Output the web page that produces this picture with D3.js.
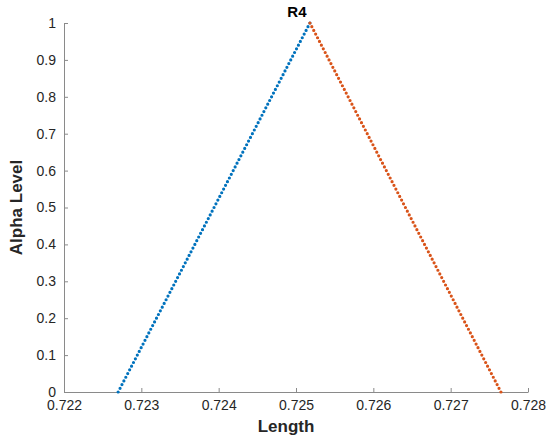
<!DOCTYPE html>
<html>
<head>
<meta charset="utf-8">
<script src="https://cdn.jsdelivr.net/npm/d3@7"></script>
<style>
  body { margin: 0; background: #fff; }
  svg { font-family: "Liberation Sans", Arial, sans-serif; }
</style>
</head>
<body>
<svg></svg>
<script>
// chart size and plot area
const width = 550, height = 440, margin = { top: 23, right: 22, bottom: 48, left: 64 };

// membership function R4: left (rising) and right (falling) edges
const leftEdge = [ { x: 0.72270, y: 0 }, { x: 0.72518, y: 1 } ];
const rightEdge = [ { x: 0.72518, y: 1 }, { x: 0.72765, y: 0 } ];
const pointsPerEdge = 101;

const xTicks = [0.722, 0.723, 0.724, 0.725, 0.726, 0.727, 0.728];
const yTicks = [0, 0.1, 0.2, 0.3, 0.4, 0.5, 0.6, 0.7, 0.8, 0.9, 1];

const svg = d3.select("svg")
    .attr("width", width)
    .attr("height", height);

const xScale = d3.scaleLinear().domain([0.722, 0.728]).range([margin.left, width - margin.right]);
const yScale = d3.scaleLinear().domain([0, 1]).range([height - margin.bottom, margin.top]);

// axes, ticks inward like matlab
const xAxis = svg.append("g")
    .attr("transform", `translate(0, ${height - margin.bottom})`)
    .call(d3.axisBottom(xScale).tickValues(xTicks).tickFormat(d3.format(".3f")).tickSizeInner(-4).tickSizeOuter(0).tickPadding(8));

const yAxis = svg.append("g")
    .attr("transform", `translate(${margin.left}, 0)`)
    .call(d3.axisLeft(yScale).tickValues(yTicks).tickFormat(d => d === 0 || d === 1 ? d : d3.format(".1f")(d)).tickSizeInner(-4).tickSizeOuter(0).tickPadding(8));

[xAxis, yAxis].forEach(ax => {
    ax.select(".domain").attr("stroke", "#8a8a8a");
    ax.selectAll(".tick line").attr("stroke", "#8a8a8a");
    ax.selectAll(".tick text").attr("fill", "#262626").attr("font-size", "14px");
});

// dotted lines
const line = d3.line().x(d => xScale(d.x)).y(d => yScale(d.y));

function drawEdge(data, color) {
    const path = svg.append("path")
        .datum(data)
        .attr("d", line)
        .attr("fill", "none")
        .attr("stroke", color)
        .attr("stroke-width", 3.2)
        .attr("stroke-linecap", "round");
    const len = path.node().getTotalLength();
    const step = len / (pointsPerEdge - 1);
    path.attr("stroke-dasharray", `0 ${step}`);
}

drawEdge(leftEdge, "#0072BD");
drawEdge(rightEdge, "#D95319");

// title and axis labels
svg.append("text")
    .attr("x", xScale(0.72518) - 13)
    .attr("y", 17)
    .attr("text-anchor", "middle")
    .attr("font-size", "15px")
    .attr("font-weight", "bold")
    .attr("fill", "#000")
    .text("R4");

svg.append("text")
    .attr("x", (margin.left + width - margin.right) / 2 - 10)
    .attr("y", 432)
    .attr("text-anchor", "middle")
    .attr("font-size", "17px")
    .attr("font-weight", "bold")
    .attr("fill", "#262626")
    .text("Length");

svg.append("text")
    .attr("transform", `translate(22, ${(margin.top + height - margin.bottom) / 2}) rotate(-90)`)
    .attr("text-anchor", "middle")
    .attr("font-size", "17px")
    .attr("font-weight", "bold")
    .attr("fill", "#262626")
    .text("Alpha Level");
</script>
</body>
</html>
